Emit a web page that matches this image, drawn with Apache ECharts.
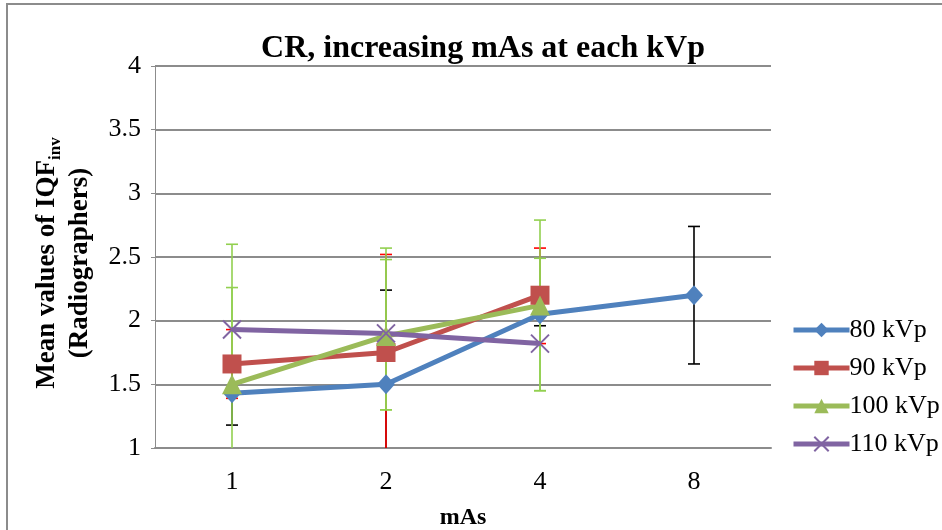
<!DOCTYPE html>
<html>
<head>
<meta charset="utf-8">
<script src="https://cdn.jsdelivr.net/npm/echarts@6/dist/echarts.min.js"></script>
<style>
html,body{margin:0;padding:0;background:#fff;}
#c{width:942px;height:530px;}
</style>
</head>
<body>
<div id="c"></div>
<script>
const categories = ['1', '2', '4', '8'];
const seriesNames = ['80 kVp', '90 kVp', '100 kVp', '110 kVp'];
const kv80 = [1.43, 1.50, 2.05, 2.20];
const kv90 = [1.66, 1.75, 2.20, null];
const kv100 = [1.50, 1.88, 2.12, null];
const kv110 = [1.93, 1.90, 1.82, null];
const err80Low = [1.18, 0.76, 1.96, 1.66];
const err80High = [1.68, 2.24, 2.14, 2.74];
const err90Low = [1.39, 0.98, 1.82];
const err90High = [1.93, 2.52, 2.57];
const err100Low = [0.40, 1.30, 1.45];
const err100High = [2.60, 2.48, 2.79];
const err110Low = [1.60, 1.30, 1.45];
const err110High = [2.26, 2.57, 2.49];
const yTicks = { min: 1, max: 4, interval: 0.5 };

const FONT = '"Liberation Serif", "Times New Roman", serif';
const colors = ['#4F81BD', '#C0504D', '#9BBB59', '#8064A2'];
const errColors = ['#000000', '#FF0000', '#92D050', '#92D050'];

function errSeries(name, color, lows, highs) {
  return {
    type: 'custom',
    name: name,
    clip: true,
    z: 2,
    silent: true,
    encode: { x: 0, y: [1, 2] },
    data: lows.map((l, i) => [i, l, highs[i]]),
    renderItem: function (params, api) {
      const x = api.value(0);
      const lo = api.coord([x, api.value(1)]);
      const hi = api.coord([x, api.value(2)]);
      const w = 6;
      const st = { stroke: color, lineWidth: 1.6 };
      return {
        type: 'group',
        children: [
          { type: 'line', shape: { x1: lo[0], y1: lo[1], x2: hi[0], y2: hi[1] }, style: st },
          { type: 'line', shape: { x1: hi[0] - w, y1: hi[1], x2: hi[0] + w, y2: hi[1] }, style: st },
          { type: 'line', shape: { x1: lo[0] - w, y1: lo[1], x2: lo[0] + w, y2: lo[1] }, style: st }
        ]
      };
    }
  };
}

function lineSeries(name, data, color, symbol, size, extraItem) {
  return {
    type: 'line',
    name: name,
    data: data,
    z: 3,
    symbol: symbol,
    symbolSize: size,
    showAllSymbol: true,
    connectNulls: false,
    lineStyle: { color: color, width: 5 },
    itemStyle: Object.assign({ color: color, opacity: 1 }, extraItem || {})
  };
}

const xPath = 'path://M0,0L10,10M10,0L0,10';

const chart = echarts.init(document.getElementById('c'), null, { renderer: 'canvas' });
chart.setOption({
  animation: false,
  backgroundColor: '#ffffff',
  graphic: [{
    type: 'rect',
    shape: { x: 7, y: 4, width: 1000, height: 600 },
    style: { fill: 'none', stroke: '#8c8c8c', lineWidth: 2 },
    z: -1
  }],
  title: {
    text: 'CR, increasing mAs at each kVp',
    left: 478,
    textAlign: 'center',
    top: 28,
    textStyle: { fontFamily: FONT, fontSize: 32, fontWeight: 'bold', color: '#000' }
  },
  grid: { left: 155, right: 171, top: 66, bottom: 82, containLabel: false, outerBoundsMode: 'none' },
  legend: {
    left: 786,
    top: 312,
    orient: 'vertical',
    itemWidth: 56,
    itemHeight: 18,
    itemGap: 12,
    data: seriesNames,
    lineStyle: { width: 5 },
    textStyle: { fontFamily: FONT, fontSize: 26, color: '#000', padding: [0, 0, 0, -5] }
  },
  xAxis: {
    type: 'category',
    data: categories,
    boundaryGap: true,
    name: 'mAs',
    nameLocation: 'middle',
    nameGap: 58,
    nameTextStyle: { fontFamily: FONT, fontSize: 24, fontWeight: 'bold', color: '#000' },
    axisLine: { lineStyle: { color: '#8c8c8c', width: 2 } },
    axisTick: { show: false },
    axisLabel: { fontFamily: FONT, fontSize: 26, color: '#000', margin: 21 }
  },
  yAxis: {
    type: 'value',
    min: yTicks.min,
    max: yTicks.max,
    interval: yTicks.interval,
    name: '{a|Mean values of IQF}{s|inv}\n{a|(Radiographers)}',
    nameLocation: 'middle',
    nameGap: 58,
    nameRotate: 90,
    nameTextStyle: {
      fontFamily: FONT, fontSize: 27, fontWeight: 'bold', color: '#000', lineHeight: 33,
      padding: [0, 12, 0, 0],
      rich: {
        a: { fontFamily: FONT, fontSize: 27, fontWeight: 'bold', color: '#000', lineHeight: 33 },
        s: { fontFamily: FONT, fontSize: 17, fontWeight: 'bold', color: '#000', verticalAlign: 'bottom', lineHeight: 33, padding: [12, 0, 0, 0] }
      }
    },
    axisLine: { show: true, lineStyle: { color: '#8c8c8c', width: 1 } },
    axisTick: { show: true, length: 4, lineStyle: { color: '#8c8c8c' } },
    splitLine: { show: true, lineStyle: { color: '#8c8c8c', width: 2 } },
    axisLabel: { fontFamily: FONT, fontSize: 26, color: '#000', margin: 14 }
  },
  series: [
    errSeries('e80', errColors[0], err80Low, err80High),
    errSeries('e90', errColors[1], err90Low, err90High),
    errSeries('e100', errColors[2], err100Low, err100High),
    errSeries('e110', errColors[3], err110Low, err110High),
    lineSeries(seriesNames[0], kv80, colors[0], 'diamond', [18, 20]),
    lineSeries(seriesNames[1], kv90, colors[1], 'rect', 19),
    lineSeries(seriesNames[2], kv100, colors[2], 'triangle', 20),
    lineSeries(seriesNames[3], kv110, colors[3], xPath, 18, { borderColor: colors[3], borderWidth: 2 })
  ]
});
</script>
</body>
</html>
